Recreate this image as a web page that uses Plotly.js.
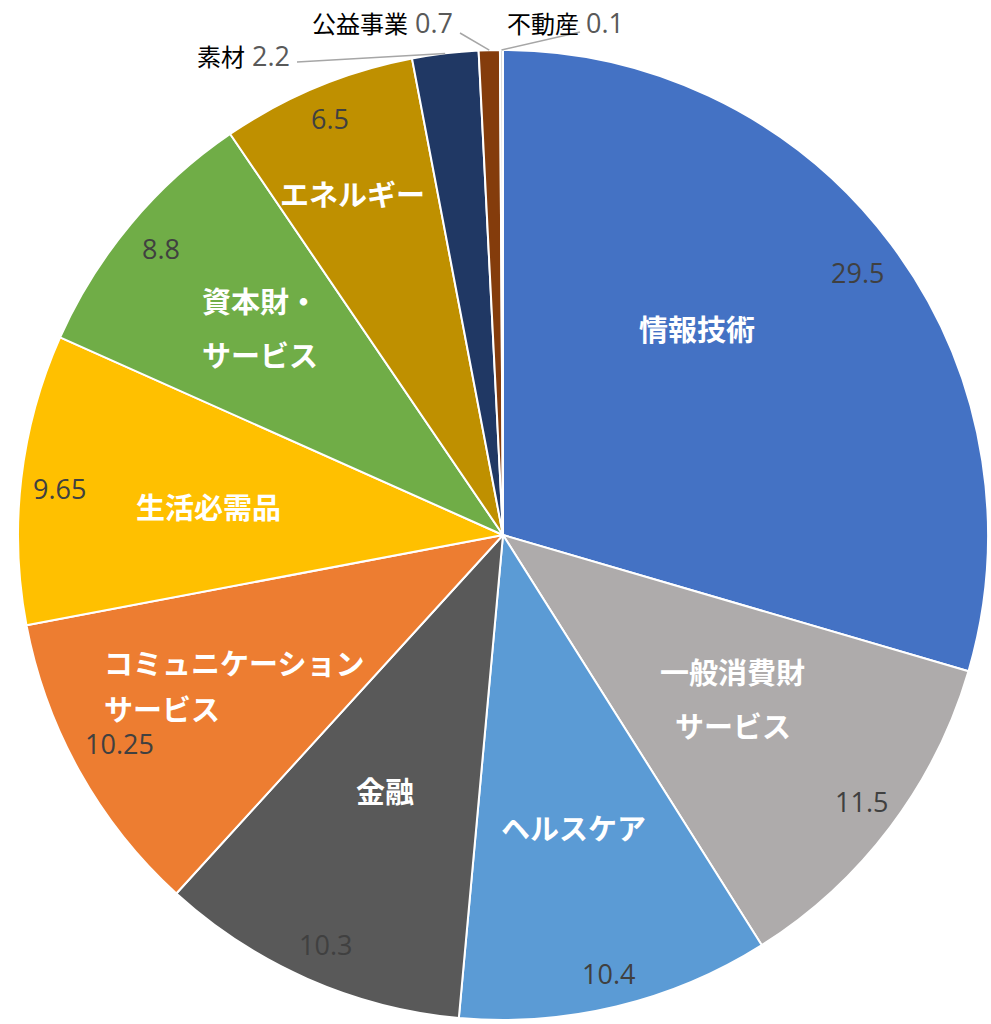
<!DOCTYPE html>
<html><head><meta charset="utf-8">
<script src="https://cdn.plot.ly/plotly-3.0.1.min.js"></script>
<style>html,body{margin:0;padding:0;background:#fff}</style>
</head><body><div id="chart" style="width:991px;height:1024px"></div>
<script>
// ---- data ----
const categories = ['情報技術','一般消費財サービス','ヘルスケア','金融','コミュニケーションサービス','生活必需品','資本財・サービス','エネルギー','素材','公益事業','不動産'];
const nameLines = [['情報技術'],['一般消費財','サービス'],['ヘルスケア'],['金融'],['コミュニケーション','サービス'],['生活必需品'],['資本財・','サービス'],['エネルギー'],['素材'],['公益事業'],['不動産']];
const values = [29.5, 11.5, 10.4, 10.3, 10.25, 9.65, 8.8, 6.5, 2.2, 0.7, 0.1];
const valueLabels = ['29.5','11.5','10.4','10.3','10.25','9.65','8.8','6.5','2.2','0.7','0.1'];
const colors = ['#4472C4','#AEABAB','#5B9BD5','#595959','#ED7D31','#FFC000','#70AD47','#BF9000','#203864','#843C0C','#D9D9D9'];

// ---- layout constants ----
const W = 991, H = 1024, CX = 503, CY = 535, R = 485;
const insideCount = 8;
// [radius fraction, angle delta (deg)]
const namePlace  = [[0.585,-10],[0.58,-1.7],[0.62,0],[0.58,1],[0.637,0.15],[0.61,-1],[0.66,0.6],[0.77,-1.3]];
const nameAlign  = ['center','center','center','center','left','center','center','center'];
const lineGap    = [54,54,54,54,46,54,54,54];
const valuePlace = [[0.91,0.3],[0.92,-0.4],[0.93,0],[0.92,-0.3],[0.9,0.6],[0.92,-0.7],[0.92,0],[0.93,0]];
// outside labels: text anchor (px), leader start (px)
const outsidePlace = [
  {tx:292, ty:55, anchor:'right', lx:297, ly:62},
  {tx:455, ty:22, anchor:'right', lx:460, ly:33},
  {tx:505, ty:22, anchor:'left',  lx:580, ly:32}
];
const NAME_SIZE = 29, VALUE_SIZE = 27;
const JP = '"Noto Sans CJK JP", "Noto Sans", sans-serif';
const NUM = '"Open Sans", "Noto Sans", sans-serif';

const total = values.reduce((a,b)=>a+b,0);
const mids = []; let cum = 0;
values.forEach(v => { mids.push((cum + v/2)/total*360); cum += v; });

function px(r, deg){ const a = deg*Math.PI/180; return [CX + r*Math.sin(a), CY - r*Math.cos(a)]; }
const toX = x => x / W, toY = y => 1 - y / H;

const annotations = [], shapes = [];
for (let i = 0; i < insideCount; i++) {
  const [nx, ny] = px(R*namePlace[i][0], mids[i] + namePlace[i][1]);
  const lines = nameLines[i], n = lines.length;
  const maxChars = Math.max(...lines.map(s => s.length));
  lines.forEach((ln, k) => {
    const y = ny + (k - (n-1)/2) * lineGap[i];
    const left = nameAlign[i] === 'left';
    annotations.push({
      xref:'paper', yref:'paper', showarrow:false,
      x: toX(left ? nx - maxChars*NAME_SIZE/2 : nx), y: toY(y),
      xanchor: left ? 'left' : 'center', yanchor:'middle',
      text: ln, font:{family:JP, size:NAME_SIZE, color:'#ffffff', weight:'bold'}
    });
  });
  const [vx, vy] = px(R*valuePlace[i][0], mids[i] + valuePlace[i][1]);
  annotations.push({
    xref:'paper', yref:'paper', showarrow:false, x: toX(vx), y: toY(vy),
    xanchor:'center', yanchor:'middle', text: valueLabels[i],
    font:{family:NUM, size:VALUE_SIZE, color:'#404040'}
  });
}
for (let j = 0; j < outsidePlace.length; j++) {
  const i = insideCount + j, p = outsidePlace[j];
  annotations.push({
    xref:'paper', yref:'paper', showarrow:false, x: toX(p.tx), y: toY(p.ty),
    xanchor: p.anchor, yanchor:'middle',
    text: '<span style="font-family:\'Noto Sans CJK JP\';font-size:24px;color:#000000">' + nameLines[i][0] + '</span> ' +
          '<span style="font-size:27px;color:#595959">' + valueLabels[i] + '</span>',
    font:{family:NUM, size:27, color:'#595959'}
  });
  const [ex, ey] = px(R, mids[i]);
  shapes.push({type:'line', xref:'paper', yref:'paper', x0: toX(p.lx), y0: toY(p.ly), x1: toX(ex), y1: toY(ey),
    line:{color:'#A6A6A6', width:1.5}});
}

const trace = {
  type:'pie', labels: categories, values: values, sort:false, direction:'clockwise', rotation:0,
  marker:{colors: colors, line:{color:'#ffffff', width:2}},
  textinfo:'none', hoverinfo:'label+value', showlegend:false,
  domain:{x:[(CX-R)/W, (CX+R)/W], y:[1-(CY+R)/H, 1-(CY-R)/H]}
};
const layout = {
  width: W, height: H, margin:{l:0,r:0,t:0,b:0}, paper_bgcolor:'#ffffff',
  showlegend:false, annotations: annotations, shapes: shapes
};
Plotly.newPlot('chart', [trace], layout, {staticPlot:true, displayModeBar:false});
</script></body></html>
